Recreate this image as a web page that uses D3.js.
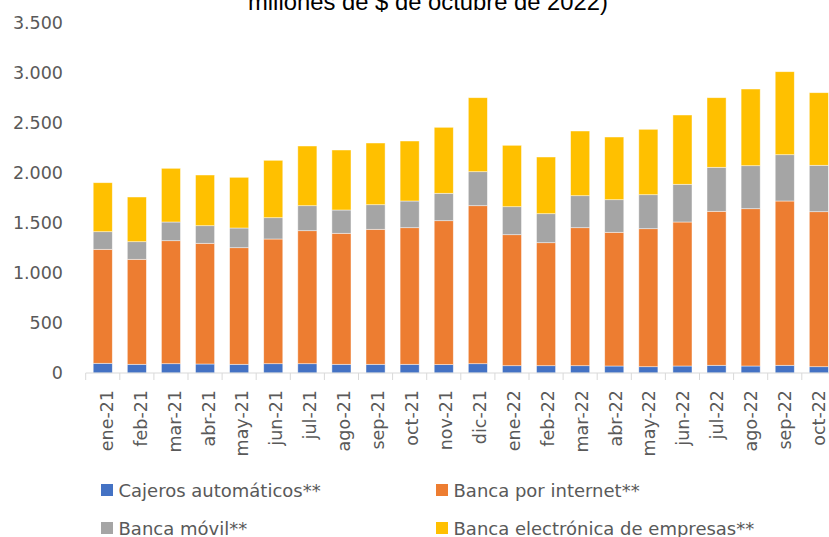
<!DOCTYPE html>
<html>
<head>
<meta charset="utf-8">
<script src="https://cdn.jsdelivr.net/npm/d3@7"></script>
<style>
  body { margin: 0; background: #fff; }
  text { font-family: "DejaVu Sans", sans-serif; }
</style>
</head>
<body>
<script>
// months shown on the x axis
var months = ["ene-21","feb-21","mar-21","abr-21","may-21","jun-21","jul-21","ago-21","sep-21","oct-21","nov-21","dic-21",
              "ene-22","feb-22","mar-22","abr-22","may-22","jun-22","jul-22","ago-22","sep-22","oct-22"];

// series values (miles de millones de $)
var cajeros  = [97, 87, 93, 90, 87, 93, 93, 87, 87, 87, 84, 93, 73, 73, 73, 70, 63, 70, 77, 70, 77, 63];
var internet = [1140, 1050, 1230, 1207, 1166, 1247, 1330, 1310, 1350, 1366, 1439, 1580, 1310, 1230, 1380, 1337, 1380, 1440, 1540, 1573, 1643, 1550];
var movil    = [176, 176, 187, 176, 197, 213, 250, 233, 246, 267, 274, 340, 280, 290, 320, 326, 340, 377, 440, 430, 463, 464];
var empresas = [490, 447, 537, 507, 507, 574, 597, 600, 617, 600, 660, 740, 614, 567, 647, 627, 654, 693, 696, 767, 830, 726];

var seriesNames = ["Cajeros automáticos**", "Banca por internet**", "Banca móvil**", "Banca electrónica de empresas**"];
var seriesColors = ["#4472C4", "#ED7D31", "#A5A5A5", "#FFC000"];
var yTicks = [0, 500, 1000, 1500, 2000, 2500, 3000, 3500];

var width = 829, height = 537;

var rows = months.map(function(m, i){
  var r = {month: m};
  r[seriesNames[0]] = cajeros[i];
  r[seriesNames[1]] = internet[i];
  r[seriesNames[2]] = movil[i];
  r[seriesNames[3]] = empresas[i];
  return r;
});

var stacked = d3.stack().keys(seriesNames)(rows);

var x = d3.scaleBand()
    .domain(months)
    .range([85.7, 85.7 + 22 * 34.1])
    .paddingInner(0.44)
    .paddingOuter(0.22);

var y = d3.scaleLinear()
    .domain([0, 3500])
    .range([373, 23]);

var color = d3.scaleOrdinal().domain(seriesNames).range(seriesColors);

var svg = d3.select("body").append("svg")
    .attr("width", width)
    .attr("height", height);

// title (only its last line is inside the picture, the top is cut off)
svg.append("text")
    .attr("x", 428)
    .attr("y", 9.5)
    .attr("text-anchor", "middle")
    .style("font-family", "'Liberation Sans', Arial, sans-serif")
    .style("font-weight", "400")
    .attr("font-size", 23.5)
    .attr("textLength", 360)
    .attr("lengthAdjust", "spacingAndGlyphs")
    .attr("fill", "#000")
    .text("millones de $ de octubre de 2022)");

// y axis labels
var yAxis = d3.axisLeft(y).tickValues(yTicks).tickSize(0).tickPadding(0)
    .tickFormat(function(d){ return d3.format(",")(d).replace(/,/g, "."); });

var yG = svg.append("g")
    .attr("transform", "translate(63,0)")
    .call(yAxis);
yG.select(".domain").remove();
yG.selectAll("text")
    .attr("font-size", 17.5)
    .attr("font-family", null)
    .attr("fill", "#595959");

// bars
svg.append("g")
  .selectAll("g")
  .data(stacked)
  .enter().append("g")
    .attr("fill", function(d){ return color(d.key); })
  .selectAll("rect")
  .data(function(d){ return d; })
  .enter().append("rect")
    .attr("x", function(d){ return x(d.data.month); })
    .attr("y", function(d){ return y(d[1]); })
    .attr("width", x.bandwidth())
    .attr("height", function(d){ return y(d[0]) - y(d[1]); })
    .attr("stroke", "#fff")
    .attr("stroke-opacity", 0.6)
    .attr("stroke-width", 0.75);

// x axis line and tick marks between categories
var xG = svg.append("g");
xG.append("line")
    .attr("x1", x.range()[0]).attr("x2", x.range()[1])
    .attr("y1", 373).attr("y2", 373)
    .attr("stroke", "#D9D9D9")
    .attr("stroke-width", 1);

xG.selectAll("line.tick")
  .data(months)
  .enter().append("line")
    .attr("class", "tick")
    .attr("x1", function(d){ return x(d) - x.step() * x.paddingInner() / 2; })
    .attr("x2", function(d){ return x(d) - x.step() * x.paddingInner() / 2; })
    .attr("y1", 373).attr("y2", 380)
    .attr("stroke", "#D9D9D9")
    .attr("stroke-width", 1);

xG.selectAll("text")
  .data(months)
  .enter().append("text")
    .attr("transform", function(d, i){
      var off = 10 - 3.8 * i / (months.length - 1);
      return "translate(" + (x(d) + x.bandwidth() / 2 + off) + ",390) rotate(-90)";
    })
    .attr("text-anchor", "end")
    .attr("font-size", 17.5)
    .attr("fill", "#595959")
    .text(function(d){ return d; });

// legend
var legendPos = [[101, 484], [436, 484], [101, 522], [436, 522]];
var legend = svg.append("g")
  .selectAll("g")
  .data(seriesNames)
  .enter().append("g")
    .attr("transform", function(d, i){ return "translate(" + legendPos[i][0] + "," + legendPos[i][1] + ")"; });

legend.append("rect")
    .attr("width", 12).attr("height", 12)
    .attr("fill", function(d){ return color(d); });

legend.append("text")
    .attr("x", 17.5)
    .attr("y", 12.5)
    .attr("font-size", 18)
    .attr("fill", "#595959")
    .text(function(d){ return d; });
</script>
</body>
</html>
